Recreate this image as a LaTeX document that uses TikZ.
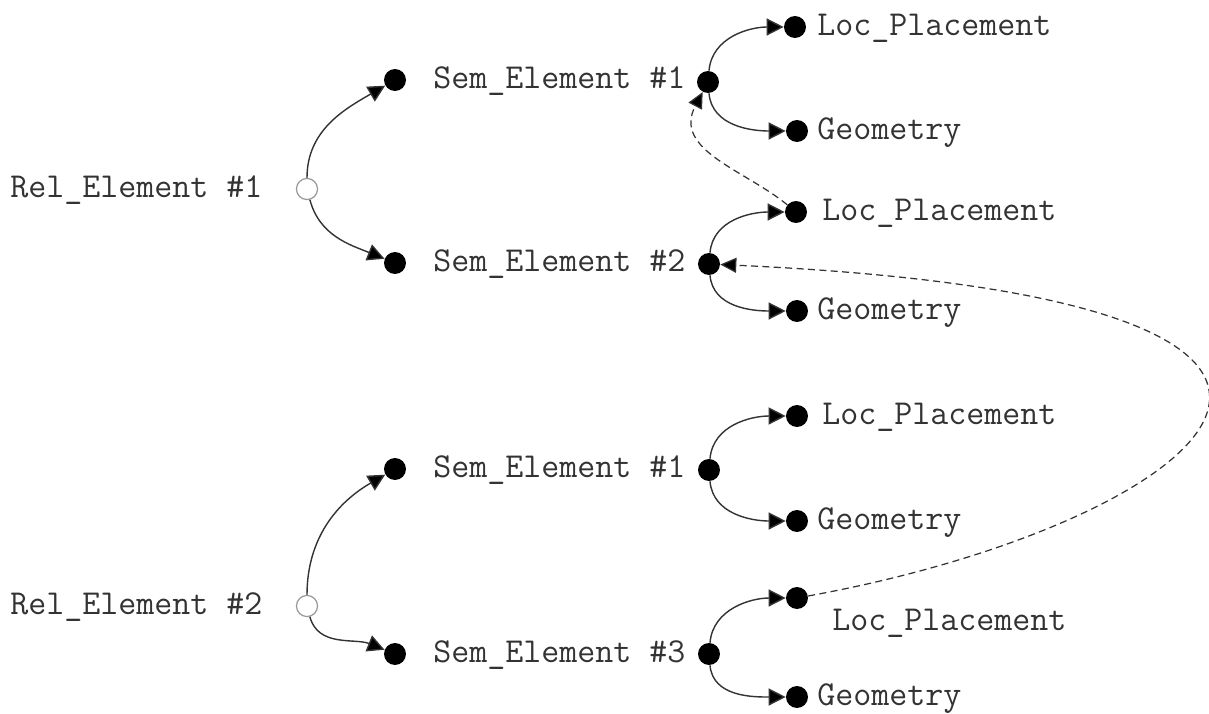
\documentclass[tikz,border=0pt]{standalone}
\usetikzlibrary{arrows.meta}

\begin{document}
\begin{tikzpicture}[x=0.02cm, y=-0.02cm,
    every node/.style={font=\ttfamily\fontsize{19.9}{24}\selectfont, inner sep=0pt, text=black!80},
    dot/.style={circle, fill=black, minimum size=12.5, inner sep=0pt},
    hollow/.style={circle, draw=gray!80, fill=white, line width=0.7pt, minimum size=12, inner sep=0pt},
    label/.style={anchor=base west, yshift=-0.17cm},
    link/.style={draw=black!80, line width=0.8pt, -{Triangle[length=0.34cm, width=0.34cm, fill=black]}},
    ref/.style={draw=black!80, line width=0.7pt, dash pattern=on 4pt off 2.5pt, -{Triangle[length=0.32cm, width=0.3cm, fill=black]}}]
  \useasboundingbox (0,0) rectangle (1209,713);

  % Relation elements
  \node[label] (rel1_txt) at (10,189) {Rel\_Element \#1};
  \node[hollow] (rel1) at (307,189) {};
  \node[label] (rel2_txt) at (10,606) {Rel\_Element \#2};
  \node[hollow] (rel2) at (307,606) {};

  % Semantic elements (left dot, name, right dot)
  \node[dot] (s11) at (395,80) {};
  \node[label] (s11_txt) at (433,80) {Sem\_Element \#1};
  \node[dot] (s11r) at (708,82) {};
  \node[dot] (s12) at (395,263) {};
  \node[label] (s12_txt) at (433,263) {Sem\_Element \#2};
  \node[dot] (s12r) at (709,264) {};
  \node[dot] (s21) at (395,469) {};
  \node[label] (s21_txt) at (433,469) {Sem\_Element \#1};
  \node[dot] (s21r) at (709,470) {};
  \node[dot] (s23) at (395,654) {};
  \node[label] (s23_txt) at (433,654) {Sem\_Element \#3};
  \node[dot] (s23r) at (709,654) {};

  % Placement and geometry leaves
  \node[dot] (loc1) at (795,27) {};
  \node[label] at (817,27) {Loc\_Placement};
  \node[dot] (geo1) at (797,131) {};
  \node[label] at (817,131) {Geometry};
  \node[dot] (loc2) at (796,212) {};
  \node[label] at (822,212) {Loc\_Placement};
  \node[dot] (geo2) at (797,311) {};
  \node[label] at (817,311) {Geometry};
  \node[dot] (loc3) at (797,416) {};
  \node[label] at (822,416) {Loc\_Placement};
  \node[dot] (geo3) at (797,521) {};
  \node[label] at (817,521) {Geometry};
  \node[dot] (loc4) at (797,598) {};
  \node[label] at (832,622) {Loc\_Placement};
  \node[dot] (geo4) at (797,697) {};
  \node[label] at (817,697) {Geometry};

  % Relations to semantic elements
  \draw[link] (rel1) to[out=90, in=210] (s11);
  \draw[link] (rel1) to[out=-75, in=158] (s12);
  \draw[link] (rel2) to[out=90, in=210] (s21);
  \draw[link] (rel2) to[out=-75, in=158] (s23);

  % Semantic elements to their leaves
  \draw[link] (s11r) to[out=85, in=180] (loc1);
  \draw[link] (s11r) to[out=-85, in=180] (geo1);
  \draw[link] (s12r) to[out=85, in=180] (loc2);
  \draw[link] (s12r) to[out=-85, in=180] (geo2);
  \draw[link] (s21r) to[out=85, in=180] (loc3);
  \draw[link] (s21r) to[out=-85, in=180] (geo3);
  \draw[link] (s23r) to[out=85, in=180] (loc4);
  \draw[link] (s23r) to[out=-85, in=180] (geo4);

  % Placement references (dashed)
  \draw[ref] (loc2) .. controls (745,170) and (672,150) .. (s11r);
  \draw[ref] (loc4) .. controls (1200,525) and (1500,300) .. (s12r);
\end{tikzpicture}
\end{document}
